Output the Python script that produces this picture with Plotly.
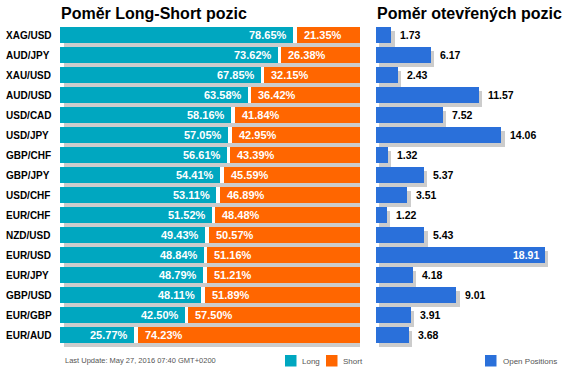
import plotly.graph_objects as go

pairs = ["XAG/USD", "AUD/JPY", "XAU/USD", "AUD/USD", "USD/CAD", "USD/JPY", "GBP/CHF", "GBP/JPY",
         "USD/CHF", "EUR/CHF", "NZD/USD", "EUR/USD", "EUR/JPY", "GBP/USD", "EUR/GBP", "EUR/AUD"]
long_pct = [78.65, 73.62, 67.85, 63.58, 58.16, 57.05, 56.61, 54.41, 53.11, 51.52, 49.43, 48.84,
            48.79, 48.11, 42.50, 25.77]
short_pct = [21.35, 26.38, 32.15, 36.42, 41.84, 42.95, 43.39, 45.59, 46.89, 48.48, 50.57, 51.16,
             51.21, 51.89, 57.50, 74.23]
open_pos = [1.73, 6.17, 2.43, 11.57, 7.52, 14.06, 1.32, 5.37, 3.51, 1.22, 5.43, 18.91, 4.18,
            9.01, 3.91, 3.68]
title_left = "Poměr Long-Short pozic"
title_right = "Poměr otevřených pozic"
update_text = "Last Update: May 27, 2016 07:40 GMT+0200"

TEAL = "#00A7C0"
ORANGE = "#FF6600"
BLUE = "#2A70DA"
SHADOW = "#CCCCCC"
FONT = "Liberation Sans, Arial, sans-serif"

W, H = 570, 374
idx = list(range(len(pairs)))
n = len(pairs)
SH_Y = 0.18
BW = 0.8

fig = go.Figure()

# left panel
fig.add_trace(go.Bar(y=[i + SH_Y for i in idx], x=[l + s for l, s in zip(long_pct, short_pct)],
                     base=[1.3] * n, orientation="h", width=BW, marker=dict(color=SHADOW, line=dict(width=0)),
                     xaxis="x", yaxis="y", hoverinfo="skip", showlegend=False))
fig.add_trace(go.Bar(y=idx, x=long_pct, orientation="h", width=BW, marker=dict(color=TEAL, line=dict(width=0)),
                     xaxis="x", yaxis="y", name="Long", showlegend=False))
fig.add_trace(go.Bar(y=idx, x=short_pct, base=long_pct, orientation="h", width=BW,
                     marker=dict(color=ORANGE, line=dict(width=0)),
                     xaxis="x", yaxis="y", name="Short", showlegend=False))
fig.add_trace(go.Bar(y=idx, x=[1.2] * n, base=[l - 1.0 for l in long_pct], orientation="h", width=BW,
                     marker=dict(color="white", line=dict(width=0)),
                     xaxis="x", yaxis="y", hoverinfo="skip", showlegend=False))

# right panel
fig.add_trace(go.Bar(y=[i + SH_Y for i in idx], x=open_pos, base=[0.36] * n, orientation="h", width=BW,
                     marker=dict(color=SHADOW, line=dict(width=0)),
                     xaxis="x2", yaxis="y2", hoverinfo="skip", showlegend=False))
fig.add_trace(go.Bar(y=idx, x=open_pos, orientation="h", width=BW, marker=dict(color=BLUE, line=dict(width=0)),
                     xaxis="x2", yaxis="y2", name="Open Positions", showlegend=False))

ann = []
for i, (p, l, s, v) in enumerate(zip(pairs, long_pct, short_pct, open_pos)):
    ann.append(dict(x=4 / W, xref="paper", y=i, yref="y", xanchor="left", yanchor="middle",
                    text=f"<b>{p}</b>", showarrow=False, font=dict(family=FONT, size=10, color="#000")))
    ann.append(dict(x=l - 1.0, xref="x", y=i, yref="y", xanchor="right", yanchor="middle", xshift=-4,
                    text=f"<b>{l:.2f}%</b>", showarrow=False, font=dict(family=FONT, size=11, color="white")))
    ann.append(dict(x=l + 0.2, xref="x", y=i, yref="y", xanchor="left", yanchor="middle", xshift=5,
                    text=f"<b>{s:.2f}%</b>", showarrow=False, font=dict(family=FONT, size=11, color="white")))
    if v == max(open_pos):
        ann.append(dict(x=v, xref="x2", y=i, yref="y2", xanchor="right", yanchor="middle", xshift=-4,
                        text=f"<b>{v:.2f}</b>", showarrow=False,
                        font=dict(family=FONT, size=10.5, color="white")))
    else:
        ann.append(dict(x=v, xref="x2", y=i, yref="y2", xanchor="left", yanchor="middle", xshift=7,
                        text=f"<b>{v:.2f}</b>", showarrow=False,
                        font=dict(family=FONT, size=10.5, color="#000")))

ann.append(dict(x=59 / W, xref="paper", y=1 - 13 / H, yref="paper", xanchor="left", yanchor="middle",
                text=f"<b>{title_left}</b>", showarrow=False, font=dict(family=FONT, size=16, color="#000")))
ann.append(dict(x=375 / W, xref="paper", y=1 - 13 / H, yref="paper", xanchor="left", yanchor="middle",
                text=f"<b>{title_right}</b>", showarrow=False, font=dict(family=FONT, size=16, color="#000")))
ann.append(dict(x=63 / W, xref="paper", y=1 - 360 / H, yref="paper", xanchor="left", yanchor="middle",
                text=update_text, showarrow=False, font=dict(family=FONT, size=7.5, color="#555")))

legend_items = [("Long", TEAL, 285, 300), ("Short", ORANGE, 326, 341), ("Open Positions", BLUE, 485, 501)]
shapes = []
for name, col, sx, tx in legend_items:
    shapes.append(dict(type="rect", xref="paper", yref="paper", x0=sx / W, x1=(sx + 11.5) / W,
                       y0=1 - 366.5 / H, y1=1 - 355 / H, fillcolor=col, line=dict(width=0)))
    ann.append(dict(x=tx / W, xref="paper", y=1 - 361 / H, yref="paper", xanchor="left", yanchor="middle",
                    text=name, showarrow=False, font=dict(family=FONT, size=8, color="#555")))

ydom = [(H - 355.4) / H, (H - 23.4) / H]
axis_common = dict(showgrid=False, zeroline=False, showticklabels=False, ticks="", showline=False)
fig.update_layout(
    width=W, height=H, margin=dict(l=0, r=0, t=0, b=0),
    paper_bgcolor="white", plot_bgcolor="white",
    barmode="overlay", bargap=0,
    xaxis=dict(domain=[60 / W, 360 / W], range=[0, 100], **axis_common),
    yaxis=dict(domain=ydom, range=[16, -0.6], **axis_common),
    xaxis2=dict(domain=[376 / W, 560 / W], range=[0, 20.63], anchor="y2", **axis_common),
    yaxis2=dict(domain=ydom, range=[16, -0.6], anchor="x2", **axis_common),
    annotations=ann, shapes=shapes, showlegend=False,
)

fig.write_html("out.html", config={"displayModeBar": False},
               post_script="document.body.style.margin='0';document.body.style.overflow='hidden';")
